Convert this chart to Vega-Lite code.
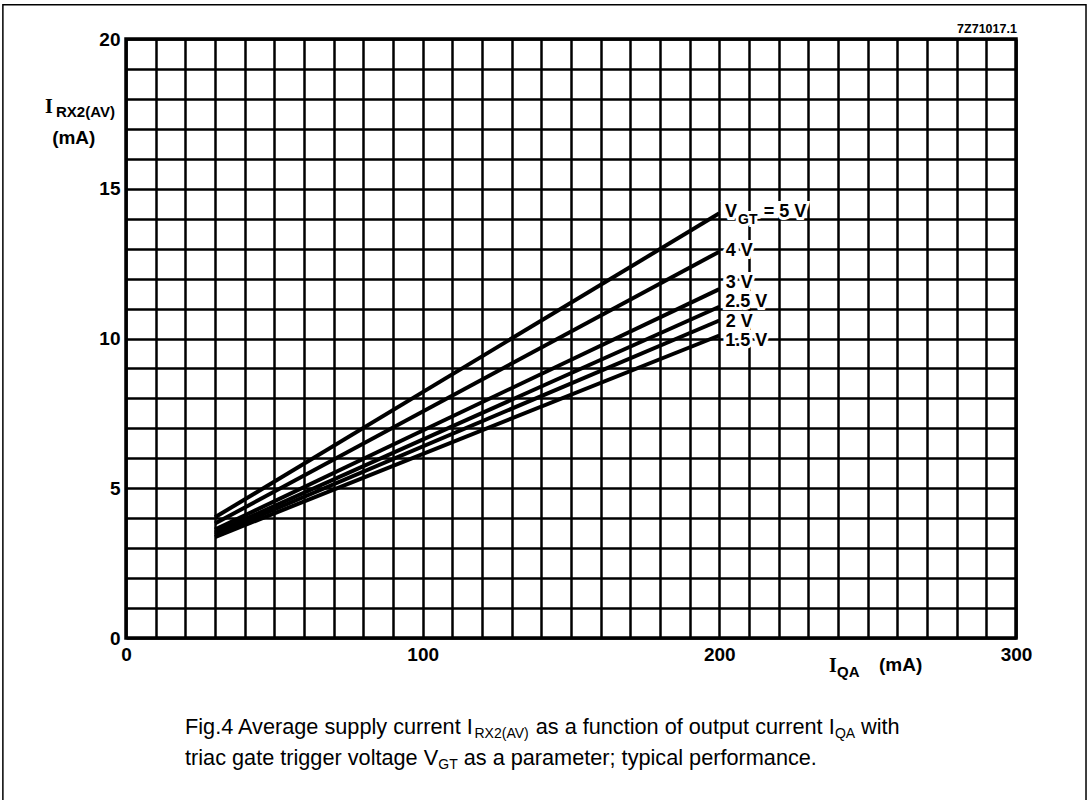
{
  "$schema": "https://vega.github.io/schema/vega-lite/v6.json",
  "width": 890,
  "height": 599,
  "autosize": {"type": "none"},
  "padding": {"left": 126, "top": 39, "right": 75, "bottom": 162},
  "background": "white",
  "config": {
    "view": {"stroke": "black", "strokeWidth": 3.5},
    "font": "Liberation Sans"
  },
  "datasets": {
    "frame": [{"x": -41.5, "x2": 323.6, "y": -5.7, "y2": 21.14}],
    "lines": [
      {"vgt": "5", "x": 30, "y": 4.03}, {"vgt": "5", "x": 200, "y": 14.18},
      {"vgt": "4", "x": 30, "y": 3.82}, {"vgt": "4", "x": 200, "y": 12.9},
      {"vgt": "3", "x": 30, "y": 3.62}, {"vgt": "3", "x": 200, "y": 11.65},
      {"vgt": "2.5", "x": 30, "y": 3.52}, {"vgt": "2.5", "x": 200, "y": 11.06},
      {"vgt": "2", "x": 30, "y": 3.45}, {"vgt": "2", "x": 200, "y": 10.6},
      {"vgt": "1.5", "x": 30, "y": 3.37}, {"vgt": "1.5", "x": 200, "y": 10.1}
    ],
    "texts": [
      {"t": "V", "x": 201.9, "y": 14.22, "g": "lab"},
      {"t": "GT", "x": 206.3, "y": 13.95, "g": "labsub"},
      {"t": "= 5 V", "x": 215.0, "y": 14.22, "g": "lab"},
      {"t": "4 V", "x": 202.2, "y": 12.92, "g": "lab"},
      {"t": "3 V", "x": 202.2, "y": 11.85, "g": "lab"},
      {"t": "2.5 V", "x": 202.0, "y": 11.22, "g": "lab"},
      {"t": "2 V", "x": 202.2, "y": 10.55, "g": "lab"},
      {"t": "1.5 V", "x": 202.0, "y": 9.92, "g": "lab"},
      {"t": "I", "x": -27.3, "y": 17.53, "g": "axI"},
      {"t": "RX2(AV)", "x": -23.6, "y": 17.40, "g": "axsub"},
      {"t": "(mA)", "x": -24.9, "y": 16.49, "g": "ax"},
      {"t": "I", "x": 237.0, "y": -1.135, "g": "axI"},
      {"t": "QA", "x": 239.7, "y": -1.30, "g": "axsub"},
      {"t": "(mA)", "x": 253.8, "y": -1.10, "g": "ax"},
      {"t": "7Z71017.1", "x": 300.3, "y": 20.33, "g": "code"},
      {"t": "Fig.4 Average supply current I", "x": 19.89, "y": -3.2, "g": "cap"},
      {"t": "RX2(AV)", "x": 117.47, "y": -3.34, "g": "capsub"},
      {"t": "as a function of output current I", "x": 138.1, "y": -3.2, "g": "cap"},
      {"t": "QA", "x": 238.96, "y": -3.34, "g": "capsub"},
      {"t": "with", "x": 247.78, "y": -3.2, "g": "cap"},
      {"t": "triac gate trigger voltage V", "x": 19.89, "y": -4.24, "g": "cap"},
      {"t": "GT", "x": 105.27, "y": -4.37, "g": "capsub"},
      {"t": "as a parameter; typical performance.", "x": 113.83, "y": -4.24, "g": "cap"}
    ]
  },
  "encoding": {
    "x": {
      "field": "x", "type": "quantitative",
      "scale": {"domain": [0, 300], "nice": false, "zero": false},
      "axis": {
        "values": [0,10,20,30,40,50,60,70,80,90,100,110,120,130,140,150,160,170,180,190,200,210,220,230,240,250,260,270,280,290,300],
        "grid": true, "gridColor": "black", "gridWidth": 2.5, "gridOpacity": 1,
        "ticks": false, "domain": false, "title": null,
        "labelExpr": "datum.value % 100 === 0 ? datum.label : ''",
        "labelFont": "Liberation Sans", "labelFontSize": 19, "labelFontWeight": "bold",
        "labelColor": "black", "labelPadding": 7, "labelOverlap": false, "labelFlush": false
      }
    },
    "y": {
      "field": "y", "type": "quantitative",
      "scale": {"domain": [0, 20], "nice": false, "zero": false},
      "axis": {
        "values": [0,1,2,3,4,5,6,7,8,9,10,11,12,13,14,15,16,17,18,19,20],
        "grid": true, "gridColor": "black", "gridWidth": 2.5, "gridOpacity": 1,
        "ticks": false, "domain": false, "title": null,
        "labelExpr": "datum.value % 5 === 0 ? datum.label : ''",
        "labelFont": "Liberation Sans", "labelFontSize": 19, "labelFontWeight": "bold",
        "labelColor": "black", "labelPadding": 6, "labelOverlap": false, "labelFlush": false
      }
    }
  },
  "layer": [
    {
      "data": {"name": "frame"},
      "mark": {"type": "rect", "fill": null, "fillOpacity": 0, "stroke": "black", "strokeWidth": 1.5, "clip": false},
      "encoding": {"x2": {"field": "x2"}, "y2": {"field": "y2"}}
    },
    {
      "data": {"name": "lines"},
      "mark": {"type": "line", "color": "black", "strokeWidth": 4, "strokeCap": "butt"},
      "encoding": {"detail": {"field": "vgt"}}
    },
    {
      "data": {"name": "texts"},
      "transform": [{"filter": "datum.g === 'lab'"}],
      "mark": {"type": "text", "align": "left", "baseline": "middle", "font": "Liberation Sans", "fontWeight": "bold", "fontSize": 18, "fill": "white", "stroke": "white", "strokeWidth": 6},
      "encoding": {"text": {"field": "t"}}
    },
    {
      "data": {"name": "texts"},
      "transform": [{"filter": "datum.g === 'labsub'"}],
      "mark": {"type": "text", "align": "left", "baseline": "middle", "font": "Liberation Sans", "fontWeight": "bold", "fontSize": 14, "fill": "white", "stroke": "white", "strokeWidth": 6},
      "encoding": {"text": {"field": "t"}}
    },
    {
      "data": {"name": "texts"},
      "transform": [{"filter": "datum.g === 'lab'"}],
      "mark": {"type": "text", "align": "left", "baseline": "middle", "font": "Liberation Sans", "fontWeight": "bold", "fontSize": 18, "color": "black"},
      "encoding": {"text": {"field": "t"}}
    },
    {
      "data": {"name": "texts"},
      "transform": [{"filter": "datum.g === 'labsub'"}],
      "mark": {"type": "text", "align": "left", "baseline": "middle", "font": "Liberation Sans", "fontWeight": "bold", "fontSize": 14, "color": "black"},
      "encoding": {"text": {"field": "t"}}
    },
    {
      "data": {"name": "texts"},
      "transform": [{"filter": "datum.g === 'axI'"}],
      "mark": {"type": "text", "align": "left", "baseline": "alphabetic", "font": "Liberation Serif", "fontWeight": "bold", "fontSize": 20, "color": "black", "clip": false},
      "encoding": {"text": {"field": "t"}}
    },
    {
      "data": {"name": "texts"},
      "transform": [{"filter": "datum.g === 'axsub'"}],
      "mark": {"type": "text", "align": "left", "baseline": "alphabetic", "font": "Liberation Sans", "fontWeight": "bold", "fontSize": 15, "color": "black", "clip": false},
      "encoding": {"text": {"field": "t"}}
    },
    {
      "data": {"name": "texts"},
      "transform": [{"filter": "datum.g === 'ax'"}],
      "mark": {"type": "text", "align": "left", "baseline": "alphabetic", "font": "Liberation Sans", "fontWeight": "bold", "fontSize": 19, "color": "black", "clip": false},
      "encoding": {"text": {"field": "t"}}
    },
    {
      "data": {"name": "texts"},
      "transform": [{"filter": "datum.g === 'code'"}],
      "mark": {"type": "text", "align": "right", "baseline": "middle", "font": "Liberation Sans", "fontWeight": "bold", "fontSize": 12.5, "color": "black", "clip": false},
      "encoding": {"text": {"field": "t"}}
    },
    {
      "data": {"name": "texts"},
      "transform": [{"filter": "datum.g === 'cap'"}],
      "mark": {"type": "text", "align": "left", "baseline": "alphabetic", "font": "Liberation Sans", "fontSize": 21.7, "color": "black", "clip": false},
      "encoding": {"text": {"field": "t"}}
    },
    {
      "data": {"name": "texts"},
      "transform": [{"filter": "datum.g === 'capsub'"}],
      "mark": {"type": "text", "align": "left", "baseline": "alphabetic", "font": "Liberation Sans", "fontSize": 14, "color": "black", "clip": false},
      "encoding": {"text": {"field": "t"}}
    }
  ]
}
